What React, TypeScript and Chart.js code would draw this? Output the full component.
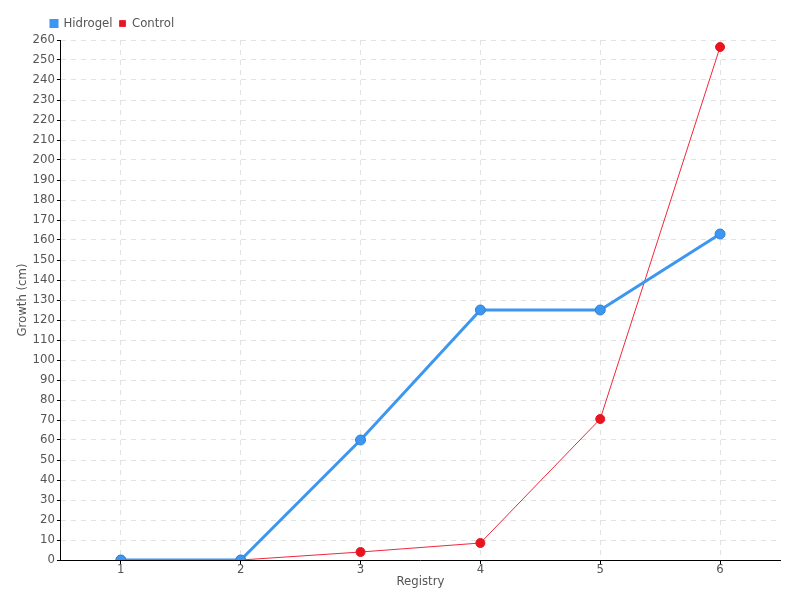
import React, { useEffect, useRef } from "react";
import { Chart, registerables } from "chart.js";

Chart.register(...registerables);

const categories = ["1", "2", "3", "4", "5", "6"];
const hidrogel = [0, 0, 60, 125, 125, 163];
const control = [0, 0, 4, 8.5, 70.5, 256.5];

const legendShift = {
  id: "legendShift",
  afterLayout(chart: any) {
    if (chart.legend) {
      chart.legend.left += 29;
      chart.legend.right += 29;
    }
  },
};

export default function App() {
  const ref = useRef<HTMLCanvasElement | null>(null);
  useEffect(() => {
    document.body.style.margin = "0";
    const family = "'DejaVu Sans Condensed', 'Liberation Sans Narrow', sans-serif";
    const font = { family, size: 13 };
    const tightFont = { family, size: 13, lineHeight: 1 };
    const grid = {
      color: "#e2e2e2",
      tickColor: "#000",
      tickBorderDash: [],
      tickLength: 4,
    };
    const chart = new Chart(ref.current as HTMLCanvasElement, {
      type: "line",
      data: {
        labels: categories,
        datasets: [
          {
            label: "Hidrogel",
            data: hidrogel,
            borderColor: "#3d97f0",
            backgroundColor: "#3d97f0",
            borderWidth: 3,
            pointRadius: 5,
            pointBorderColor: "#2f7fd6",
            pointBorderWidth: 1,
            pointBackgroundColor: "#3d97f0",
            tension: 0,
          },
          {
            label: "Control",
            data: control,
            borderColor: "#f0283c",
            backgroundColor: "#e8141f",
            borderWidth: 1,
            pointRadius: 4.5,
            pointBorderColor: "#e8141f",
            pointBackgroundColor: "#e8141f",
            tension: 0,
          },
        ],
      },
      options: {
        animation: false,
        responsive: false,
        layout: { padding: { left: 15, right: 20, top: 10, bottom: 12 } },
        plugins: {
          tooltip: { enabled: false },
          legend: {
            position: "top",
            align: "start",
            labels: {
              boxWidth: 6,
              boxHeight: 6,
              padding: 7,
              color: "#555",
              font,
            },
          },
        },
        scales: {
          x: {
            type: "category",
            offset: true,
            title: { display: true, text: "Registry", color: "#555", font: tightFont, padding: { top: 0, bottom: 0 } },
            ticks: { color: "#555", font: tightFont, padding: -1 },
            grid: { ...grid, offset: false },
            border: { color: "#000", width: 1, dash: [5, 5] },
          },
          y: {
            min: 0,
            max: 260,
            title: { display: true, text: "Growth (cm)", color: "#555", font, padding: { top: 0, bottom: 0 } },
            ticks: { stepSize: 10, color: "#555", font, padding: 2, autoSkip: false },
            grid,
            border: { color: "#000", width: 1, dash: [5, 5] },
          },
        },
      } as any,
      plugins: [legendShift],
    });
    return () => chart.destroy();
  }, []);
  return (
    <div style={{ position: "fixed", left: 0, top: 0, width: 800, height: 600 }}>
      <canvas ref={ref} width={800} height={600} />
    </div>
  );
}
